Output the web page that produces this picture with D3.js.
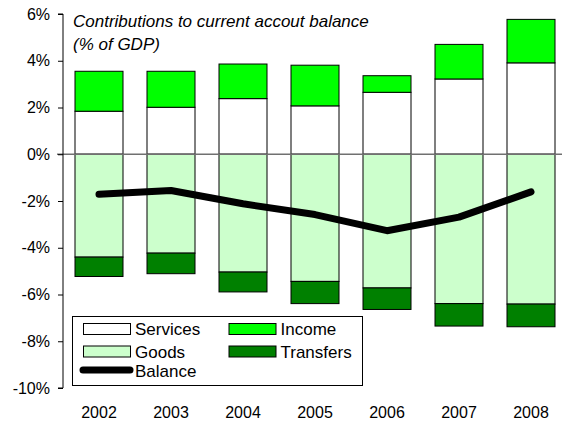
<!DOCTYPE html>
<html>
<head>
<meta charset="utf-8">
<script src="https://cdn.jsdelivr.net/npm/d3@7"></script>
<style>
html,body{margin:0;padding:0;background:#fff;}
svg{display:block;font-family:"Liberation Sans",Arial,sans-serif;}
</style>
</head>
<body>
<svg id="chart" width="562" height="423"></svg>
<script>
const years = ["2002","2003","2004","2005","2006","2007","2008"];
const services = [1.84, 2.01, 2.38, 2.07, 2.65, 3.22, 3.91];
const income = [1.71, 1.54, 1.48, 1.74, 0.71, 1.48, 1.86];
const goods = [-4.40, -4.23, -5.04, -5.44, -5.72, -6.39, -6.41];
const transfers = [-0.83, -0.88, -0.85, -0.95, -0.92, -0.96, -0.97];
const balance = [-1.71, -1.55, -2.12, -2.58, -3.27, -2.69, -1.61];
const yTicks = [6, 4, 2, 0, -2, -4, -6, -8, -10];
const titleLines = ["Contributions to current accout balance", "(% of GDP)"];

const colors = {Services:"#ffffff", Income:"#00ff00", Goods:"#ccffcc", Transfers:"#008000"};

const svg = d3.select("#chart");
const x = d3.scaleBand().domain(years).range([63, 567]).paddingInner(1/3).paddingOuter(1/6);
const y = d3.scaleLinear().domain([-10, 6]).range([388, 14]);

// stacked bars
const stacks = [];
years.forEach((yr, i) => {
  stacks.push({yr, name:"Services", y0:0, y1:services[i]});
  stacks.push({yr, name:"Income", y0:services[i], y1:services[i]+income[i]});
  stacks.push({yr, name:"Goods", y0:goods[i], y1:0});
  stacks.push({yr, name:"Transfers", y0:goods[i]+transfers[i], y1:goods[i]});
});
svg.append("g").selectAll("rect").data(stacks).join("rect")
  .attr("x", d => x(d.yr))
  .attr("width", x.bandwidth())
  .attr("y", d => y(d.y1))
  .attr("height", d => y(d.y0) - y(d.y1))
  .attr("fill", d => colors[d.name])
  .attr("stroke", "#000")
  .attr("stroke-width", 1);

// zero line
svg.append("line").attr("x1", 57).attr("x2", 562).attr("y1", y(0)).attr("y2", y(0))
  .attr("stroke", "#707070").attr("stroke-width", 1.5);

// y axis
const yAxis = d3.axisLeft(y).tickValues(yTicks).tickSize(5).tickFormat(d => d + "%");
const gy = svg.append("g").attr("transform", "translate(63,0)").call(yAxis);
gy.select(".domain").attr("stroke", "#000").attr("d", `M-5,${y(6)}H0V${y(-10)}H-5`);
gy.selectAll(".tick line").attr("stroke", "#000");
gy.selectAll(".tick text").attr("font-size", 16).attr("fill", "#000").attr("x", -13)
  .attr("font-family", "Liberation Sans, Arial, sans-serif");

// x labels
const xAxis = d3.axisBottom(x).tickSize(0);
const gx = svg.append("g").attr("transform", "translate(0,402)").call(xAxis);
gx.select(".domain").remove();
gx.selectAll(".tick text").attr("font-size", 16).attr("fill", "#000").attr("dy", 0).attr("y", 16)
  .attr("font-family", "Liberation Sans, Arial, sans-serif");

// balance line
const line = d3.line().x((d, i) => x(years[i]) + x.bandwidth()/2).y(d => y(d));
svg.append("path").datum(balance).attr("d", line).attr("fill", "none")
  .attr("stroke", "#000").attr("stroke-width", 7).attr("stroke-linecap", "round").attr("stroke-linejoin", "round");

// title
const t = svg.append("text").attr("font-size", 17).attr("font-style", "italic").attr("fill", "#000");
titleLines.forEach((s, i) => t.append("tspan").attr("x", 73).attr("y", 27 + i*23).text(s));

// legend
const lg = svg.append("g");
lg.append("rect").attr("x", 72.5).attr("y", 316.5).attr("width", 290).attr("height", 69)
  .attr("fill", "#fff").attr("stroke", "#000").attr("stroke-width", 1);
const legendItems = [
  {name:"Services", sx:83, sy:323},
  {name:"Income", sx:228.5, sy:323},
  {name:"Goods", sx:83, sy:345.5},
  {name:"Transfers", sx:228.5, sy:345.5}
];
legendItems.forEach(it => {
  lg.append("rect").attr("x", it.sx + 0.5).attr("y", it.sy + 0.5).attr("width", 47).attr("height", 11)
    .attr("fill", colors[it.name]).attr("stroke", "#000").attr("stroke-width", 1);
  lg.append("text").attr("x", it.sx + 52).attr("y", it.sy + 12).attr("font-size", 17).attr("fill", "#000").text(it.name);
});
lg.append("line").attr("x1", 83).attr("x2", 130).attr("y1", 370).attr("y2", 370)
  .attr("stroke", "#000").attr("stroke-width", 7).attr("stroke-linecap", "round");
lg.append("text").attr("x", 135).attr("y", 377).attr("font-size", 17).attr("fill", "#000").text("Balance");
</script>
</body>
</html>
